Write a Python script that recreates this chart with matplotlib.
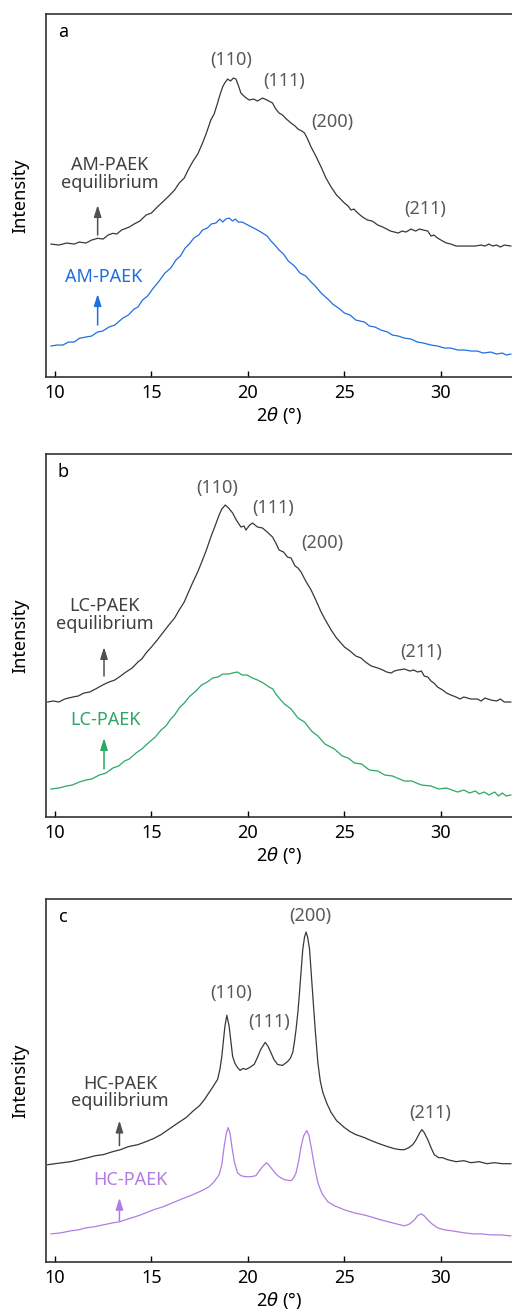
# XRD patterns of PAEK samples (a: AM, b: LC, c: HC)

import matplotlib.pyplot as plt

plt.rcParams['font.family'] = ['Noto Sans', 'DejaVu Sans']

# panel a: AM-PAEK equilibrium (black) and AM-PAEK (blue)
a_eq_x = [9.79, 10.2, 10.6, 11.0, 11.26, 11.6, 11.9, 12.21, 12.5, 12.75, 12.99, 13.2, 13.45, 13.85,
          14.1, 14.4, 14.72, 15.0, 15.3, 15.58, 15.9, 16.2, 16.44, 16.7, 16.9, 17.13, 17.4, 17.65,
          17.85, 18.08, 18.25, 18.43, 18.55, 18.69, 18.8, 18.95, 19.1, 19.25, 19.38, 19.5, 19.64,
          19.85, 20.07, 20.3, 20.5, 20.76, 21.0, 21.28, 21.45, 21.62, 21.8, 22.0, 22.24, 22.45,
          22.6, 22.8, 22.94, 23.1, 23.28, 23.5, 23.8, 24.05, 24.32, 24.6, 25.01, 25.2, 25.35,
          25.5, 25.7, 25.95, 26.2, 26.45, 26.74, 27.0, 27.2, 27.4, 27.6, 27.8, 28.0, 28.2, 28.46,
          28.7, 28.9, 29.1, 29.33, 29.5, 29.65, 29.84, 30.1, 30.3, 30.53, 30.8, 31.1, 31.4, 31.8,
          32.1, 32.3, 32.5, 32.7, 32.9, 33.1, 33.3, 33.64]
a_eq_y = [133, 132, 134, 133, 135, 134, 137, 138.7, 138, 142, 143.7, 143, 147, 150,
          153, 156, 162, 164, 170, 175, 181, 187, 194, 199, 207, 215, 223, 234,
          244, 257, 263, 274, 282, 290, 294, 298, 296, 299, 298, 292, 284,
          280, 277, 278, 276, 279, 277, 274, 268, 264, 262, 258, 254, 251,
          248, 246, 244, 238, 230, 222, 210, 199, 190, 182, 174, 171, 167,
          168, 164, 160, 157, 156, 152, 150, 148, 146, 145, 144, 146, 145, 148,
          146, 148, 147, 146, 141, 142, 139, 136, 134, 133, 131, 131, 131, 131,
          132, 131, 133, 131, 132, 130, 132, 131]
a_x = [9.79, 10.1, 10.4, 10.7, 11.0, 11.26, 11.6, 11.9, 12.2, 12.47, 12.8, 13.1, 13.5, 13.8, 14.1,
       14.3, 14.54, 14.8, 15.1, 15.4, 15.7, 16.0, 16.27, 16.5, 16.75, 16.96, 17.2, 17.45, 17.65,
       17.9, 18.1, 18.34, 18.55, 18.7, 18.85, 19.03, 19.2, 19.35, 19.5, 19.7, 19.9, 20.1, 20.3,
       20.5, 20.76, 21.0, 21.2, 21.4, 21.62, 21.85, 22.1, 22.42, 22.7, 23.0, 23.28, 23.5, 23.8,
       24.15, 24.4, 24.7, 25.01, 25.3, 25.6, 26.05, 26.3, 26.6, 26.9, 27.25, 27.5, 27.8, 28.1,
       28.46, 28.8, 29.1, 29.5, 29.84, 30.2, 30.5, 30.9, 31.23, 31.6, 31.9, 32.2, 32.6, 32.9,
       33.2, 33.4, 33.64]
a_y = [31, 32, 32, 35, 35, 38.7, 40, 41, 45, 46, 50, 52, 58.7, 62, 68,
       70, 77, 81, 89, 96, 104, 109, 117, 121, 129, 133, 139, 142, 147,
       149, 153, 154, 158, 155, 158, 159, 156, 158, 155, 155, 153, 151, 149,
       147, 144, 141, 136, 132, 127, 123, 116, 111, 104, 101, 95, 91, 84,
       78, 73, 69, 64, 62, 57, 55, 51, 50, 47, 45, 42, 41, 39,
       38, 35, 34, 32, 31, 29, 29, 27, 27, 26, 26, 24, 25, 23,
       24, 22, 23]

# panel b: LC-PAEK equilibrium (black) and LC-PAEK (green)
b_eq_x = [9.62, 9.9, 10.2, 10.5, 10.92, 11.2, 11.5, 11.8, 12.1, 12.47, 12.8, 13.1, 13.4, 13.68,
          14.0, 14.3, 14.5, 14.72, 15.0, 15.3, 15.58, 15.9, 16.2, 16.44, 16.7, 16.9, 17.13, 17.4,
          17.65, 17.85, 18.08, 18.3, 18.51, 18.65, 18.83, 19.0, 19.21, 19.4, 19.64, 19.8, 19.9,
          20.1, 20.24, 20.5, 20.76, 21.0, 21.28, 21.45, 21.62, 21.85, 22.05, 22.24, 22.45, 22.6,
          22.76, 23.0, 23.28, 23.5, 23.8, 24.05, 24.32, 24.6, 25.01, 25.3, 25.6, 25.87, 26.1,
          26.4, 26.74, 27.0, 27.2, 27.43, 27.6, 27.8, 28.12, 28.4, 28.6, 28.81, 29.0, 29.15,
          29.33, 29.5, 29.65, 29.84, 30.1, 30.3, 30.53, 30.8, 31.0, 31.2, 31.57, 31.9, 32.1,
          32.3, 32.6, 32.9, 33.1, 33.3, 33.64]
b_eq_y = [115, 116, 115, 118, 120, 121, 124, 125, 128, 132, 135, 137, 141, 145,
          149, 155, 158, 164, 170, 177, 184, 192, 199, 207, 215, 224, 234, 245,
          257, 267, 280, 291, 302, 308, 312, 309, 304, 297, 290, 291, 287,
          292, 294, 290, 289, 285, 280, 274, 267, 265, 260, 259, 251, 249,
          245, 236, 227, 218, 205, 196, 187, 179, 170, 166, 161, 159, 155,
          151, 149, 147, 145, 144, 146, 147, 148, 146, 147, 145, 146, 141,
          140, 136, 134, 130, 127, 124, 122, 120, 118, 120, 118, 118, 116,
          119, 117, 116, 118, 115, 115]
b_x = [9.79, 10.2, 10.6, 10.9, 11.26, 11.6, 11.9, 12.3, 12.64, 13.0, 13.3, 13.6, 13.85, 14.2,
       14.5, 14.89, 15.2, 15.5, 15.75, 16.0, 16.2, 16.44, 16.7, 17.0, 17.31, 17.6, 17.9, 18.17,
       18.45, 18.7, 19.03, 19.2, 19.46, 19.7, 19.95, 20.24, 20.5, 20.8, 21.1, 21.3, 21.45,
       21.62, 21.9, 22.24, 22.6, 22.94, 23.3, 23.63, 24.0, 24.49, 24.9, 25.2, 25.53, 25.9,
       26.3, 26.74, 27.1, 27.5, 28.12, 28.5, 29.0, 29.5, 29.9, 30.3, 30.88, 31.2, 31.5, 31.8,
       32.0, 32.26, 32.5, 32.8, 33.0, 33.2, 33.4, 33.64]
b_y = [28, 29, 31, 32, 35, 37, 38, 42, 44, 49, 51, 56, 58, 64,
       68, 75, 80, 87, 91, 98, 102, 109, 114, 121, 126, 132, 135, 139,
       140, 143, 143, 144, 145, 142, 142, 139, 137, 134, 130, 128, 123,
       119, 113, 108, 99, 95, 86, 81, 73, 68, 61, 59, 54, 53,
       47, 46, 42, 41, 36, 36, 32, 31, 28, 29, 25, 27, 24, 26,
       23, 25, 22, 25, 21, 24, 21, 22]

# panel c: HC-PAEK equilibrium (black) and HC-PAEK (purple)
c_eq_x = [9.62, 10.0, 10.4, 10.8, 11.26, 11.7, 12.1, 12.5, 12.99, 13.4, 13.8, 14.3, 14.72, 15.1,
          15.5, 15.8, 16.1, 16.4, 16.8, 17.13, 17.5, 17.75, 17.99, 18.2, 18.43, 18.55, 18.65,
          18.74, 18.81, 18.91, 19.03, 19.12, 19.21, 19.33, 19.46, 19.6, 19.75, 19.9, 20.1, 20.33,
          20.5, 20.67, 20.9, 21.05, 21.19, 21.35, 21.54, 21.8, 22.07, 22.2, 22.33, 22.42, 22.5,
          22.6, 22.68, 22.77, 22.85, 22.94, 23.02, 23.1, 23.2, 23.28, 23.37, 23.5, 23.63, 23.76,
          23.89, 24.1, 24.32, 24.6, 25.01, 25.3, 25.6, 26.05, 26.4, 26.8, 27.25, 27.6, 27.9,
          28.12, 28.35, 28.55, 28.7, 28.81, 28.92, 29.03, 29.15, 29.33, 29.5, 29.67, 29.9, 30.1,
          30.36, 30.8, 31.2, 31.57, 32.0, 32.4, 32.78, 33.2, 33.64]
c_eq_y = [97, 98, 99, 100, 102, 104, 106, 107, 110, 112, 115, 117, 120, 123,
          127, 131, 135, 139, 144, 150, 156, 162, 169, 175, 182, 192, 205,
          222, 235, 246, 235, 220, 205, 198, 194, 191, 193, 192, 194, 197,
          204, 212, 219, 215, 209, 202, 197, 196, 200, 203, 209, 220, 232,
          250, 269, 292, 312, 324, 329, 324, 312, 290, 265, 230, 199, 180,
          169, 158, 149, 141, 134, 130, 127, 124, 121, 118, 115, 113, 112,
          112, 114, 117, 121, 125, 129, 132, 129, 122, 114, 107, 104, 104,
          102, 100, 101, 99, 100, 98, 99, 98, 98]
c_x = [9.79, 10.3, 10.8, 11.2, 11.61, 12.0, 12.5, 13.0, 13.33, 13.8, 14.3, 14.72, 15.1, 15.6,
       16.1, 16.6, 17.13, 17.6, 17.99, 18.25, 18.51, 18.65, 18.77, 18.88, 18.98, 19.08, 19.17,
       19.3, 19.46, 19.65, 19.9, 20.15, 20.41, 20.6, 20.76, 20.97, 21.12, 21.28, 21.45, 21.62,
       21.9, 22.24, 22.38, 22.5, 22.63, 22.76, 22.9, 23.06, 23.17, 23.28, 23.45, 23.63, 23.85,
       24.15, 24.5, 25.01, 25.5, 26.0, 26.39, 26.9, 27.5, 28.12, 28.4, 28.64, 28.8, 28.98,
       29.15, 29.33, 29.55, 29.84, 30.2, 30.6, 31.23, 31.7, 32.1, 32.6, 33.1, 33.64]
c_y = [28, 29, 31, 32, 34, 35, 37, 39, 40, 43, 46, 49, 52, 55,
       59, 63, 67, 71, 75, 80, 87, 97, 115, 128, 134, 128, 115,
       100, 89, 86, 85, 85, 86, 91, 95, 99, 96, 92, 88, 85,
       82, 81, 84, 89, 100, 115, 126, 131, 126, 115, 96, 79, 68,
       60, 56, 52, 49, 47, 45, 42, 39, 36, 38, 42, 46, 48,
       46, 42, 38, 34, 32, 31, 29, 28, 28, 27, 27, 26]

peaks = ['(110)', '(111)', '(200)', '(211)']
xticks = [10, 15, 20, 25, 30]

panels = [
    dict(tag='a', name='AM-PAEK', color='#1f6fe0', eq=(a_eq_x, a_eq_y), raw=(a_x, a_y),
         peak_pos=[(19.11, 317), (21.89, 296), (24.4, 255), (29.22, 168)],
         eq_lbl=(12.82, 203), eq_arr=(12.21, 142, 172), lbl=(12.54, 100), arr=(12.21, 52, 83),
         ylim=363),
    dict(tag='b', name='LC-PAEK', color='#2aa865', eq=(b_eq_x, b_eq_y), raw=(b_x, b_y),
         peak_pos=[(18.42, 329), (21.29, 309), (23.85, 274), (29.01, 165)],
         eq_lbl=(12.59, 202), eq_arr=(12.54, 141, 170), lbl=(12.61, 97), arr=(12.54, 48, 79),
         ylim=363),
    dict(tag='c', name='HC-PAEK', color='#b07ee0', eq=(c_eq_x, c_eq_y), raw=(c_x, c_y),
         peak_pos=[(19.11, 268), (21.08, 239), (23.26, 345), (29.45, 149)],
         eq_lbl=(13.37, 169), eq_arr=(13.34, 116, 141), lbl=(13.92, 82), arr=(13.34, 41, 64),
         ylim=362),
]

fig = plt.figure(figsize=(5.12, 13.11), dpi=100)
bottoms = [0.7124, 0.3768, 0.0374]

for p, b in zip(panels, bottoms):
    ax = fig.add_axes([0.0898, b, 0.9102, 0.2769])
    ax.plot(*p['eq'], color='#383838', lw=0.9)
    ax.plot(*p['raw'], color=p['color'], lw=0.9)
    ax.set_xlim(9.53, 33.7)
    ax.set_ylim(0, p['ylim'])
    ax.set_xticks(xticks)
    ax.set_yticks([])
    ax.tick_params(axis='x', direction='in', length=4, width=1, labelsize=13, pad=5)
    ax.spines['right'].set_visible(False)
    for s in ['left', 'bottom', 'top']:
        ax.spines[s].set_linewidth(1.2)
        ax.spines[s].set_color('#333333')
    ax.set_xlabel(r'2$\theta$ (°)', fontsize=13, labelpad=2)
    ax.set_ylabel('Intensity', fontsize=13, labelpad=12)
    ax.text(10.43, p['ylim'] - 18, p['tag'], fontsize=13, ha='center', va='center')
    for name, (px, py) in zip(peaks, p['peak_pos']):
        ax.text(px, py, name, fontsize=13, color='#595959', ha='center', va='center')
    ex, ey = p['eq_lbl']
    ax.text(ex, ey, p['name'] + '\nequilibrium', fontsize=13, color='#404040',
            ha='center', va='center', linespacing=0.95)
    x0, y0, y1 = p['eq_arr']
    ax.annotate('', xy=(x0, y1), xytext=(x0, y0),
                arrowprops=dict(arrowstyle='-|>,head_length=0.7,head_width=0.22',
                                color='#505050', lw=1.1, shrinkA=0, shrinkB=0))
    lx, ly = p['lbl']
    ax.text(lx, ly, p['name'], fontsize=13, color=p['color'], ha='center', va='center')
    x0, y0, y1 = p['arr']
    ax.annotate('', xy=(x0, y1), xytext=(x0, y0),
                arrowprops=dict(arrowstyle='-|>,head_length=0.7,head_width=0.22',
                                color=p['color'], lw=1.1, shrinkA=0, shrinkB=0))

plt.savefig('out.png', dpi=100)
